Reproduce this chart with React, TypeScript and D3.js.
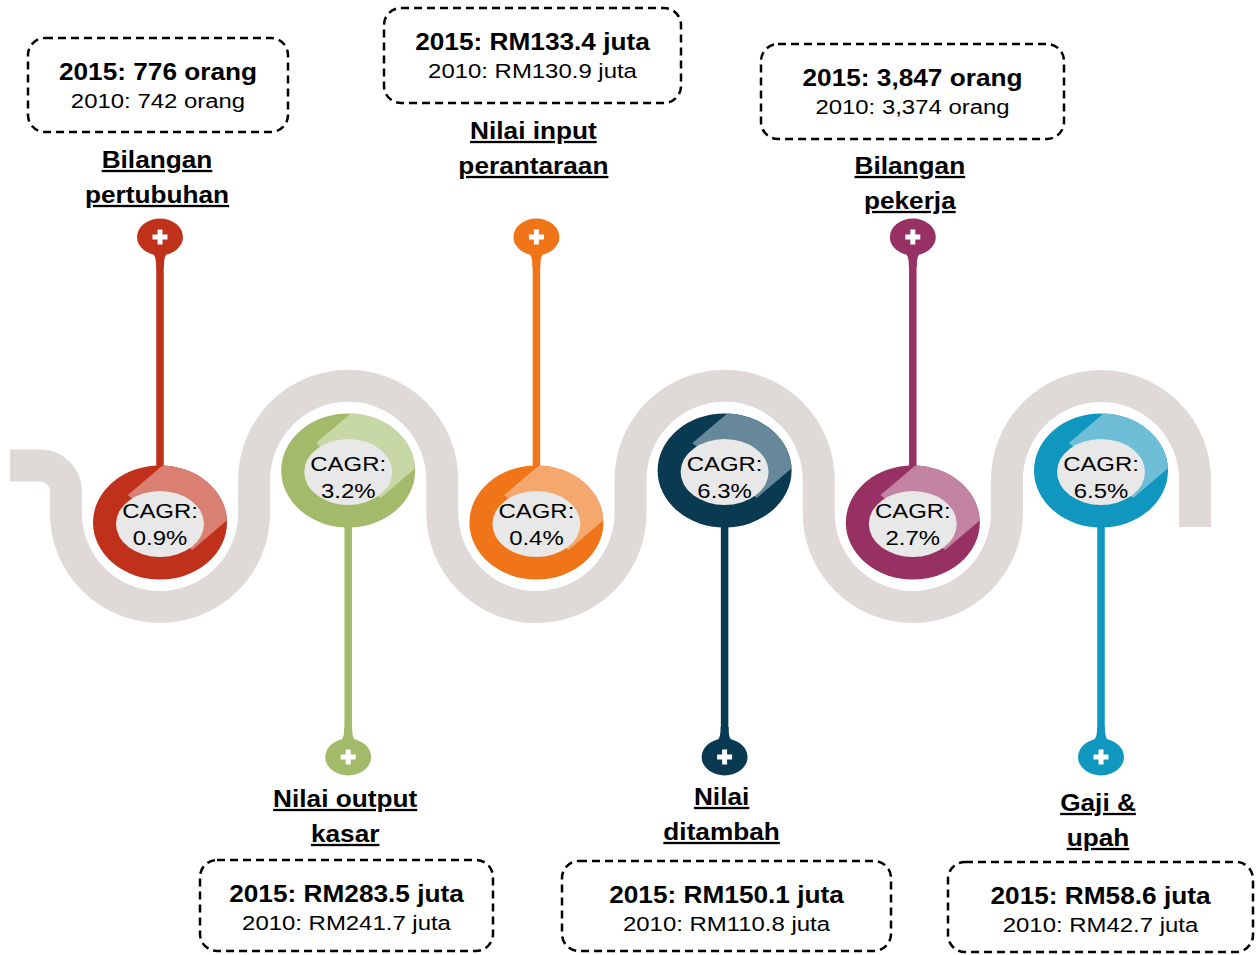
import React from "react";
import * as d3 from "d3";

// indicator data, left to right
const labelLines = [
  ["Bilangan", "pertubuhan"],
  ["Nilai output", "kasar"],
  ["Nilai input", "perantaraan"],
  ["Nilai", "ditambah"],
  ["Bilangan", "pekerja"],
  ["Gaji &", "upah"],
];
const value2015 = ["776 orang", "RM283.5 juta", "RM133.4 juta", "RM150.1 juta", "3,847 orang", "RM58.6 juta"];
const value2010 = ["742 orang", "RM241.7 juta", "RM130.9 juta", "RM110.8 juta", "3,374 orang", "RM42.7 juta"];
const cagr = [0.9, 3.2, 0.4, 6.3, 2.7, 6.5];
const darkColors = ["#C0311B", "#A3BA6A", "#F07519", "#0A3A52", "#973163", "#1097BF"];
const lightColors = ["#D98072", "#C8D7A6", "#F5A86E", "#66889A", "#C384A3", "#6DBED6"];

// box placement per indicator (layout only)
const boxLayout = [
  { x: 28, y: 38, w: 260, h: 94 },
  { x: 200, y: 860, w: 293, h: 91 },
  { x: 384, y: 8, w: 297, h: 95 },
  { x: 562, y: 861, w: 329, h: 90 },
  { x: 761, y: 44, w: 303, h: 95 },
  { x: 948, y: 862, w: 305, h: 90 },
];
const labelY = [160, 799, 131, 797, 166, 803];

const FONT = "'Liberation Sans', Arial, sans-serif";
const SX = 1.14;
const BAND = "#DFDAD8";
const INNER = "#E7E8E7";

const x = d3.scalePoint<number>().domain(d3.range(6)).range([160, 1101]);
const R = (x(1)! - x(0)!) / 2;

const upperY = 480; // centre of arches over rings
const lowerY = 513; // centre of the U-bends
const ringLow = 522.5;
const ringHigh = 470.5;
const rx = 67;
const ry = 57;

function serpentine() {
  const p = d3.path();
  p.moveTo(10, 465.5);
  p.lineTo(40, 465.5);
  p.arc(40, 491.5, 26, -Math.PI / 2, 0);
  p.lineTo(x(0)! - R, lowerY);
  d3.range(6).forEach((i) => {
    const cx = x(i)!;
    if (i % 2 === 0) {
      p.arc(cx, lowerY, R, Math.PI, 0, true);
      p.lineTo(cx + R, upperY);
    } else {
      p.arc(cx, upperY, R, Math.PI, 2 * Math.PI, false);
      p.lineTo(cx + R, i === 5 ? 527 : lowerY);
    }
  });
  return p.toString();
}

const T = (props: any) => (
  <text
    transform={`translate(${props.x},${props.y}) scale(${SX},1)`}
    textAnchor="middle"
    fontFamily={FONT}
    fontSize={props.size}
    fontWeight={props.bold ? "bold" : "normal"}
    textDecoration={props.underline ? "underline" : undefined}
    fill="#000"
  >
    {props.children}
  </text>
);

function Pin({ cx, cy, up, color }: any) {
  // up = neck points downward towards a stem below (top pins)
  const s = up ? 1 : -1;
  const neck = `M${cx - 10},${cy + s * 13} C${cx - 4},${cy + s * 19} ${cx - 4},${cy + s * 23} ${cx - 4},${cy + s * 30}
    L${cx + 4},${cy + s * 30} C${cx + 4},${cy + s * 23} ${cx + 4},${cy + s * 19} ${cx + 10},${cy + s * 13} Z`;
  return (
    <g>
      <ellipse cx={cx} cy={cy} rx={23} ry={18.5} fill={color} />
      <path d={neck} fill={color} />
      <rect x={cx - 7.5} y={cy - 2.5} width={15} height={5} fill="#fff" />
      <rect x={cx - 2.5} y={cy - 7.5} width={5} height={15} fill="#fff" />
    </g>
  );
}

function Ring({ i }: { i: number }) {
  const cx = x(i)!;
  const low = i % 2 === 0;
  const cy = low ? ringLow : ringHigh;
  const d = 0.68;
  const L = 1.6;
  const k = Math.SQRT1_2;
  const pts = [
    [-d * k, -d * k],
    [d * k, d * k],
    [d * k + L * k, d * k - L * k],
    [-d * k + L * k, -d * k - L * k],
  ].map(([u, v]) => [cx + u * rx, cy + v * ry]);
  const id = `ringclip${i}`;
  const t1 = low ? cy - 5 : cy;
  return (
    <g>
      <defs>
        <clipPath id={id}>
          <ellipse cx={cx} cy={cy} rx={rx} ry={ry} />
        </clipPath>
      </defs>
      <ellipse cx={cx} cy={cy} rx={rx} ry={ry} fill={darkColors[i]} />
      <polygon points={pts.map((q) => q.join(",")).join(" ")} fill={lightColors[i]} clipPath={`url(#${id})`} />
      <ellipse cx={cx} cy={cy + 1.5} rx={44} ry={33} fill={INNER} />
      <T x={cx} y={t1} size={21}>CAGR:</T>
      <T x={cx} y={t1 + 27} size={21}>{`${cagr[i].toFixed(1)}%`}</T>
    </g>
  );
}

export default function App() {
  return (
    <svg
      width={1258}
      height={955}
      style={{ position: "absolute", left: 0, top: 0, display: "block", background: "#fff" }}
    >
      <path d={serpentine()} fill="none" stroke={BAND} strokeWidth={32} />
      {d3.range(6).map((i) => {
        const cx = x(i)!;
        const low = i % 2 === 0;
        const pinY = low ? 237 : 757;
        const stemA = low ? pinY + 20 : ringHigh + ry - 2;
        const stemB = low ? ringLow - ry + 2 : pinY - 20;
        return (
          <g key={i}>
            <line x1={cx} x2={cx} y1={stemA} y2={stemB} stroke={darkColors[i]} strokeWidth={7.5} />
            <Pin cx={cx} cy={pinY} up={low} color={darkColors[i]} />
          </g>
        );
      })}
      {d3.range(6).map((i) => (
        <Ring key={i} i={i} />
      ))}
      {d3.range(6).map((i) => {
        const b = boxLayout[i];
        const bx = b.x + b.w / 2;
        return (
          <g key={i}>
            <rect
              x={b.x}
              y={b.y}
              width={b.w}
              height={b.h}
              rx={17}
              fill="none"
              stroke="#000"
              strokeWidth={2.5}
              strokeDasharray="8 5"
            />
            <T x={bx} y={b.y + 42} size={23} bold>{`2015: ${value2015[i]}`}</T>
            <T x={bx} y={b.y + 70} size={21}>{`2010: ${value2010[i]}`}</T>
            <T x={x(i)! - 3} y={labelY[i] + 8} size={23} bold underline>{labelLines[i][0]}</T>
            <T x={x(i)! - 3} y={labelY[i] + 43} size={23} bold underline>{labelLines[i][1]}</T>
          </g>
        );
      })}
    </svg>
  );
}
